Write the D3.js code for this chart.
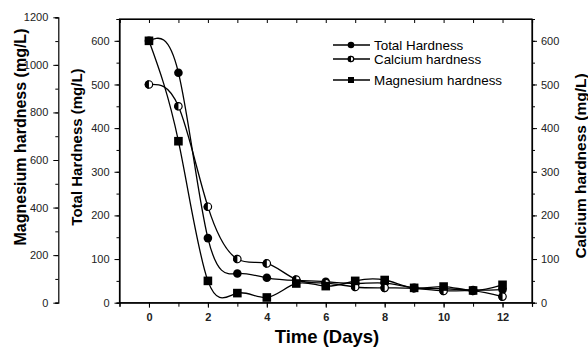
<!DOCTYPE html>
<html lang="en">
<head>
<meta charset="UTF-8">
<title>Hardness vs Time</title>
<script src="https://d3js.org/d3.v7.min.js"></script>
<style>
  body { margin: 0; background: #fff; }
  text { font-family: Arial, "Liberation Sans", sans-serif; }
</style>
</head>
<body>
<div id="chart"></div>
<script>

// data
const days = [0, 1, 2, 3, 4, 5, 6, 7, 8, 9, 10, 11, 12];
const totalHardness = [600, 527, 148, 67, 57, 51, 48, 44, 45, 34, 32, 29, 30];
const calciumHardness = [500, 450, 220, 100, 90, 53, 45, 36, 34, 33, 27, 27, 14];
const magnesiumHardness = [600, 370, 50, 22, 12, 44, 38, 50, 52, 34, 37, 28, 41];
const xTicks = [0, 2, 4, 6, 8, 10, 12];
const legendLabels = ["Total Hardness", "Calcium hardness", "Magnesium hardness"];

const width = 588, height = 348;
const plotLeft = 119.5, plotRight = 532, plotTop = 19, plotBottom = 302.7;

const svg = d3.select("#chart").append("svg")
    .attr("width", width)
    .attr("height", height);

const x = d3.scaleLinear().domain([-1, 13]).range([plotLeft, plotRight]);
const y = d3.scaleLinear().domain([0, 650]).range([plotBottom, plotTop]);
const yMg = d3.scaleLinear().domain([0, 1200]).range([plotBottom, 17.3]);

// frame
svg.append("rect")
    .attr("x", plotLeft).attr("y", plotTop)
    .attr("width", plotRight - plotLeft).attr("height", plotBottom - plotTop)
    .attr("fill", "none").attr("stroke", "#000").attr("stroke-width", 1.2);

// helper to style axes
function styleAxis(g, bold) {
    g.select(".domain").attr("stroke", "#000").attr("stroke-width", 1.2);
    g.selectAll(".tick line").attr("stroke", "#000");
    g.selectAll(".tick text")
        .attr("fill", "#222")
        .style("font-size", "11px")
        .style("font-weight", bold ? "bold" : "normal");
}

// bottom axis: minor ticks every day, labels every 2
svg.append("g")
    .attr("transform", `translate(0,${plotBottom})`)
    .call(d3.axisBottom(x).tickValues(d3.range(-1, 14)).tickSize(4).tickFormat(""))
    .call(g => styleAxis(g));
svg.append("g")
    .attr("transform", `translate(0,${plotBottom})`)
    .call(d3.axisBottom(x).tickValues(xTicks).tickSize(5).tickPadding(6).tickFormat(d3.format("d")))
    .call(g => styleAxis(g, true))
    .call(g => g.select(".domain").remove());

// top axis, ticks pointing in
svg.append("g")
    .attr("transform", `translate(0,${plotTop})`)
    .call(d3.axisBottom(x).tickValues(d3.range(-1, 14)).tickSize(4).tickFormat(""))
    .call(g => styleAxis(g));

// left inner axis: total hardness
svg.append("g")
    .attr("transform", `translate(${plotLeft},0)`)
    .call(d3.axisLeft(y).tickValues(d3.range(0, 651, 50)).tickSize(3).tickFormat(""))
    .call(g => styleAxis(g));
svg.append("g")
    .attr("transform", `translate(${plotLeft},0)`)
    .call(d3.axisLeft(y).tickValues(d3.range(0, 601, 100)).tickSize(5).tickPadding(5).tickFormat(d3.format("d")))
    .call(g => styleAxis(g))
    .call(g => g.select(".domain").remove());

// right axis: calcium hardness
svg.append("g")
    .attr("transform", `translate(${plotRight},0)`)
    .call(d3.axisRight(y).tickValues(d3.range(0, 651, 50)).tickSize(3).tickFormat(""))
    .call(g => styleAxis(g));
svg.append("g")
    .attr("transform", `translate(${plotRight},0)`)
    .call(d3.axisRight(y).tickValues(d3.range(0, 601, 100)).tickSize(5).tickPadding(4).tickFormat(d3.format("d")))
    .call(g => styleAxis(g))
    .call(g => g.select(".domain").remove());

// outer left axis: magnesium hardness
const mgX = 58.3;
svg.append("g")
    .attr("transform", `translate(${mgX},0)`)
    .call(d3.axisLeft(yMg).tickValues(d3.range(0, 1201, 100)).tickSize(3).tickFormat(""))
    .call(g => styleAxis(g));
svg.append("g")
    .attr("transform", `translate(${mgX},0)`)
    .call(d3.axisLeft(yMg).tickValues(d3.range(0, 1201, 200)).tickSize(5).tickPadding(5).tickFormat(d3.format("d")))
    .call(g => styleAxis(g))
    .call(g => g.select(".domain").remove());

// axis titles
function vTitle(cx, cy, label, size) {
    svg.append("text")
        .attr("transform", `translate(${cx},${cy}) rotate(-90)`)
        .attr("text-anchor", "middle")
        .attr("dy", "0.35em")
        .style("font-size", size + "px")
        .style("font-weight", "bold")
        .text(label);
}
vTitle(20, 137, "Magnesium hardness (mg/L)", 16);
vTitle(77, 147, "Total Hardness (mg/L)", 15);
vTitle(581, 166, "Calcium hardness (mg/L)", 15.5);

svg.append("text")
    .attr("x", 327).attr("y", 343)
    .attr("text-anchor", "middle")
    .style("font-size", "18.5px")
    .style("font-weight", "bold")
    .text("Time (Days)");

// series
const series = [
    {name: legendLabels[0], values: totalHardness, marker: "circle"},
    {name: legendLabels[1], values: calciumHardness, marker: "half"},
    {name: legendLabels[2], values: magnesiumHardness, marker: "square"}
];

const line = d3.line()
    .x(d => x(d[0]))
    .y(d => y(d[1]))
    .curve(d3.curveNatural);

function drawMarker(g, type, cx, cy, r) {
    if (type === "circle") {
        g.append("circle").attr("cx", cx).attr("cy", cy).attr("r", r)
            .attr("fill", "#000");
    } else if (type === "square") {
        g.append("rect").attr("x", cx - r).attr("y", cy - r)
            .attr("width", 2 * r).attr("height", 2 * r).attr("fill", "#000");
    } else {
        g.append("circle").attr("cx", cx).attr("cy", cy).attr("r", r - 0.6)
            .attr("fill", "#fff").attr("stroke", "#000").attr("stroke-width", 1.2);
        const arc = d3.arc()({innerRadius: 0, outerRadius: r, startAngle: Math.PI, endAngle: 2 * Math.PI});
        g.append("path").attr("d", arc).attr("transform", `translate(${cx},${cy})`)
            .attr("fill", "#000");
    }
}

const plot = svg.append("g");
series.forEach(s => {
    const pts = days.map((d, i) => [d, s.values[i]]);
    plot.append("path")
        .attr("d", line(pts))
        .attr("fill", "none")
        .attr("stroke", "#000")
        .attr("stroke-width", 1.3);
});
series.forEach(s => {
    const g = plot.append("g");
    days.forEach((d, i) => drawMarker(g, s.marker, x(d), y(s.values[i]), 4.3));
});

// legend
const legendRows = [45, 59, 80];
series.forEach((s, i) => {
    const ly = legendRows[i];
    const g = svg.append("g");
    g.append("line")
        .attr("x1", 333).attr("x2", 370)
        .attr("y1", ly).attr("y2", ly)
        .attr("stroke", "#000").attr("stroke-width", 1.3);
    drawMarker(g, s.marker, 351, ly, s.marker === "square" ? 3 : 3.3);
    g.append("text")
        .attr("x", 374).attr("y", ly)
        .attr("dy", "0.35em")
        .style("font-size", "13.4px")
        .text(s.name);
});

</script>
</body>
</html>
